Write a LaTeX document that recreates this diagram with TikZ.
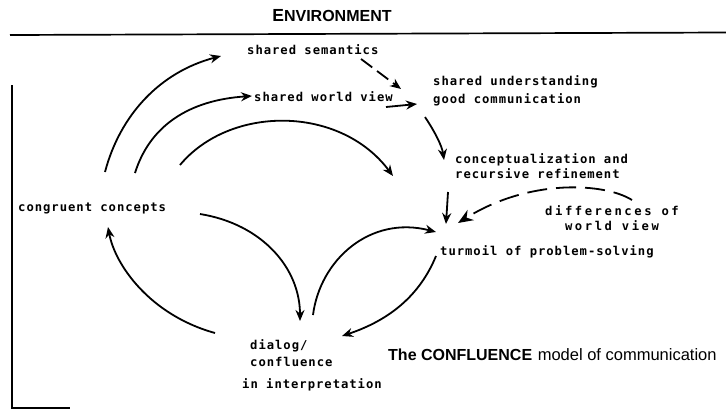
\documentclass[tikz,border=0pt]{standalone}
\usepackage{fontspec}
\setmainfont{Liberation Sans}
\newfontfamily\monofam[LetterSpace=8]{DejaVu Sans Mono}
\newfontfamily\monowide[LetterSpace=21]{DejaVu Sans Mono}
\usetikzlibrary{arrows.meta}
\begin{document}
\begin{tikzpicture}[x=1pt,y=-1pt,
  lbl/.style={inner sep=0pt, anchor=west, align=left, font=\monofam\bfseries\fontsize{12.2}{15}\selectfont},
  conn/.style={line width=1.8pt, -{Stealth[length=11pt,width=9pt]}},
  bigconn/.style={line width=1.8pt, -{Stealth[length=15pt,width=12pt]}},
  dashconn/.style={bigconn, dash pattern=on 20pt off 9pt},
  frame/.style={line width=1.7pt}]
\useasboundingbox (0,0) rectangle (726,410);
% frame
\draw[frame] (10,35) -- (726,32.5);
\draw[frame] (12,85) -- (12,408) -- (70,408);
% titles
\node[inner sep=0pt] (env) at (332,16) {\bfseries{\fontsize{17.5}{17.5}\selectfont E}{\fontsize{16}{16}\selectfont NVIRONMENT}};
\node[inner sep=0pt, anchor=west] (cap) at (388,355) {{\bfseries\fontsize{16}{16}\selectfont The CONFLUENCE}\ \ {\fontsize{16.5}{16.5}\selectfont model of communication}};
% labels
\node[lbl] (sem) at (247,50) {shared semantics};
\node[lbl] (swv) at (254,97) {shared world view};
\node[lbl, font=\monofam\bfseries\fontsize{12.2}{18}\selectfont] (su) at (433,91) {shared understanding\\good communication};
\node[lbl] (conc) at (455,166.5) {conceptualization and\\recursive refinement};
\node[lbl, anchor=center, align=center, font=\monowide\bfseries\fontsize{12.2}{15}\selectfont] (diff) at (612,218.5) {differences of\\world view};
\node[lbl] (turm) at (440,252) {turmoil of problem-solving};
\node[lbl] (cong) at (18,208) {congruent concepts};
\node[lbl, font=\monofam\bfseries\fontsize{12.2}{17}\selectfont] (dial) at (250,353.5) {dialog/\\confluence};
\node[lbl] (interp) at (242,385) {in interpretation};
% connector end points
\coordinate (c1s) at (105,172); \coordinate (c1e) at (221,56);
\coordinate (c2s) at (135,173); \coordinate (c2e) at (252,96);
\coordinate (c3s) at (180,165); \coordinate (c3e) at (393,176);
\coordinate (d1s) at (361,59);  \coordinate (d1e) at (401,89);
\coordinate (w1s) at (386,107); \coordinate (w1e) at (417,104);
\coordinate (u1s) at (425,117); \coordinate (u1e) at (444,160);
\coordinate (k1s) at (448,192); \coordinate (k1e) at (446,224);
\coordinate (f1s) at (632,200); \coordinate (f1e) at (458,223);
\coordinate (r1s) at (313,315); \coordinate (r1e) at (436,232);
\coordinate (g1s) at (200,214); \coordinate (g1e) at (300,321);
\coordinate (b1s) at (215,333); \coordinate (b1e) at (108,227);
\coordinate (t1s) at (436,256); \coordinate (t1e) at (342,336);
% connectors
\draw[conn] (c1s) .. controls (120,115) and (160,72) .. (c1e);
\draw[conn] (c2s) .. controls (150,125) and (190,100) .. (c2e);
\draw[conn] (c3s) .. controls (230,105) and (340,105) .. (c3e);
\draw[conn, dash pattern=on 14pt off 6pt] (d1s) -- (d1e);
\draw[conn] (w1s) -- (w1e);
\draw[conn] (u1s) .. controls (435,132) and (442,146) .. (u1e);
\draw[conn] (k1s) -- (k1e);
\draw[dashconn] (f1s) .. controls (605,183) and (530,178) .. (f1e);
\draw[conn] (r1s) .. controls (320,260) and (370,215) .. (r1e);
\draw[conn] (g1s) .. controls (262,224) and (300,268) .. (g1e);
\draw[conn] (b1s) .. controls (150,315) and (115,265) .. (b1e);
\draw[conn] (t1s) .. controls (420,295) and (390,320) .. (t1e);
\end{tikzpicture}
\end{document}
